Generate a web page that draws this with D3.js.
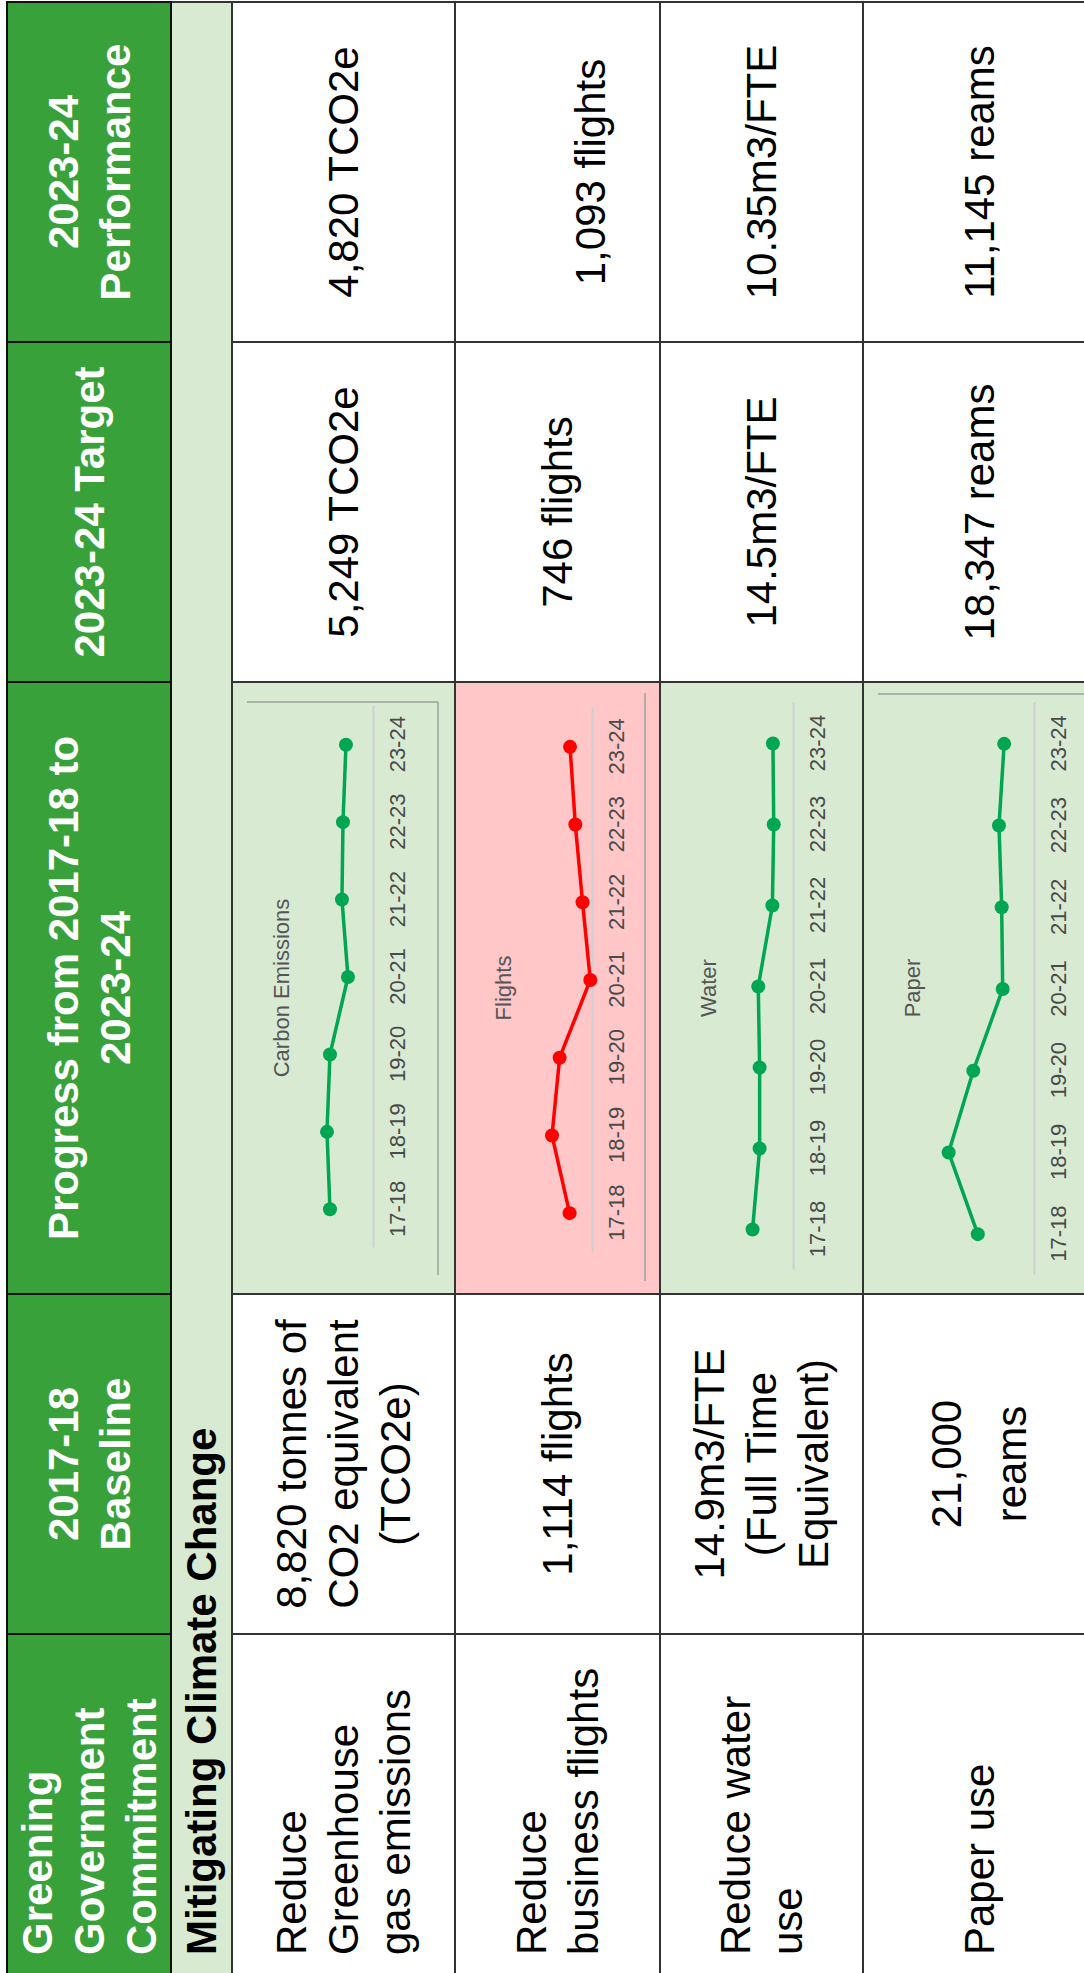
<!DOCTYPE html>
<html>
<head>
<meta charset="utf-8">
<script src="https://cdn.jsdelivr.net/npm/d3@7"></script>
<style>
  body { margin: 0; background: #fff; }
  svg { display: block; }
  text { font-family: "Liberation Sans", Arial, sans-serif; }
</style>
</head>
<body>
<svg id="main-svg"></svg>
<script>
// table content
var columnHeads = [["Greening", "Government", "Commitment"], ["2017-18", "Baseline"], ["Progress from 2017-18 to", "2023-24"], ["2023-24 Target"], ["2023-24", "Performance"]];
var sectionTitle = "Mitigating Climate Change";
var commitments = [["Reduce", "Greenhouse", "gas emissions"], ["Reduce", "business flights"], ["Reduce water", "use"], ["Paper use"]];
var baselines = [["8,820 tonnes of", "CO2 equivalent", "(TCO2e)"], ["1,114 flights"], ["14.9m3/FTE", "(Full Time", "Equivalent)"], ["21,000", "reams"]];
var targets = [["5,249 TCO2e"], ["746 flights"], ["14.5m3/FTE"], ["18,347 reams"]];
var performance = [["4,820 TCO2e"], ["", "1,093 flights"], ["10.35m3/FTE"], ["11,145 reams"]];

// sparkline data
var years = ["17-18", "18-19", "19-20", "20-21", "21-22", "22-23", "23-24"];
var chartTitles = ["Carbon Emissions", "Flights", "Water", "Paper"];
var carbonValues = [8820, 9430, 8820, 5130, 6360, 6150, 5540];
var flightValues = [1114, 1990, 1610, 85, 470, 830, 1093];
var waterValues = [14.9, 12.3, 12.3, 12.8, 7.6, 7.1, 7.4];
var paperValues = [21000, 31880, 22680, 11700, 12070, 13080, 11145];
var onTrack = [true, false, true, true];

var W = 1084, H = 1973;
var svg = d3.select("#main-svg").attr("width", W).attr("height", H);
svg.append("rect").attr("width", W).attr("height", H).attr("fill", "#fff");

// the table is drawn upright and turned a quarter turn
var g = svg.append("g").attr("transform", "translate(0," + H + ") rotate(-90)");

var colX = [-10, 339, 679, 1291, 1631, 1971];
var headTop = 7, headBottom = 171, bandBottom = 232;
var rowY = [232, 455, 660, 863, 1095];
var fontSize = 42, lineH = 52;
var green = "#38a13a", paleGreen = "#d9ead3", pink = "#ffc7c7";
var leading = { "1-3": 65, "4-1": 65 };

function addLines(sel, lines, x, cy, anchor, lh) {
  var n = lines.length;
  var t = sel.append("text").attr("text-anchor", anchor).attr("font-size", fontSize);
  lines.forEach(function (s, i) {
    t.append("tspan").attr("x", x).attr("y", cy + (i - (n - 1) / 2) * lh).attr("dy", "0.35em").text(s);
  });
  return t;
}

// body cells
var columns = [commitments, baselines, null, targets, performance];
for (var r = 0; r < 4; r++) {
  var y0 = rowY[r], y1 = rowY[r + 1], cy = (y0 + y1) / 2;
  for (var c = 0; c < 5; c++) {
    var x0 = colX[c], x1 = colX[c + 1];
    var fill = c === 2 ? (onTrack[r] ? paleGreen : pink) : "#fff";
    g.append("rect").attr("x", x0).attr("y", y0).attr("width", x1 - x0).attr("height", y1 - y0)
      .attr("fill", fill).attr("stroke", "#333").attr("stroke-width", 2);
    if (columns[c]) {
      var lh = leading[c + "-" + r] || lineH;
      if (c === 0) addLines(g, columns[c][r], 18, cy, "start", lh).attr("fill", "#000");
      else addLines(g, columns[c][r], (x0 + x1) / 2, cy, "middle", lh).attr("fill", "#000");
    }
  }
}

// section band
g.append("rect").attr("x", colX[0]).attr("y", headBottom).attr("width", colX[5] - colX[0]).attr("height", bandBottom - headBottom)
  .attr("fill", paleGreen).attr("stroke", "#333").attr("stroke-width", 2);
g.append("text").attr("x", 18).attr("y", (headBottom + bandBottom) / 2).attr("dy", "0.35em")
  .attr("font-size", fontSize).attr("font-weight", "bold").attr("fill", "#000").text(sectionTitle);

// header row
columnHeads.forEach(function (lines, c) {
  var x0 = colX[c], x1 = colX[c + 1];
  g.append("rect").attr("x", x0).attr("y", headTop).attr("width", x1 - x0).attr("height", headBottom - headTop)
    .attr("fill", green).attr("stroke", "#111").attr("stroke-width", 2);
  var t = c === 0 ? addLines(g, lines, 18, (headTop + headBottom) / 2, "start", lineH)
    : addLines(g, lines, (x0 + x1) / 2, (headTop + headBottom) / 2, "middle", lineH);
  t.attr("fill", "#fff").attr("font-weight", "bold");
});

// sparklines
var chartSeries = [carbonValues, flightValues, waterValues, paperValues];
var chartMax = [10000, 2000, 15, 35000];
var chartBox = [
  { axisY: 373, x0: 725, x1: 1267, span: 48.8, titleY: 281 },
  { axisY: 592, x0: 721, x1: 1265, span: 40.2, titleY: 503 },
  { axisY: 793, x0: 703, x1: 1270, span: 40.7, titleY: 708 },
  { axisY: 1034, x0: 698, x1: 1270, span: 93.7, titleY: 912 }
];
var frameLines = [
  [[698, 438, 1271, 438], [1271, 247, 1271, 438]],
  [[692, 645, 1280, 645]],
  [],
  [[1279, 878, 1279, 1100]]
];

chartSeries.forEach(function (vals, i) {
  var b = chartBox[i];
  var cg = g.append("g");
  frameLines[i].forEach(function (l) {
    cg.append("line").attr("x1", l[0]).attr("y1", l[1]).attr("x2", l[2]).attr("y2", l[3])
      .attr("stroke", "#9aa29a").attr("stroke-width", 1.5);
  });
  var x = d3.scalePoint().domain(years).range([b.x0, b.x1]).padding(0.5);
  var y = d3.scaleLinear().domain([0, chartMax[i]]).range([b.axisY, b.axisY - b.span]);
  var ax = cg.append("g").attr("transform", "translate(0," + b.axisY + ")")
    .call(d3.axisBottom(x).tickSize(0).tickSizeOuter(0).tickPadding(16));
  ax.select(".domain").attr("stroke", "#cfcfcf").attr("stroke-width", 2);
  ax.selectAll("text").attr("font-size", 22).attr("fill", "#4a4a4a")
    .attr("font-family", "'Liberation Sans', Arial, sans-serif");
  cg.append("text").attr("x", 985).attr("y", b.titleY).attr("dy", "0.35em").attr("text-anchor", "middle")
    .attr("font-size", 22).attr("fill", "#555").text(chartTitles[i]);
  var col = onTrack[i] ? "#00a651" : "#ff0000";
  var pts = years.map(function (yr, k) { return [x(yr), y(vals[k])]; });
  cg.append("path").datum(pts).attr("d", d3.line()).attr("fill", "none")
    .attr("stroke", col).attr("stroke-width", 3.5);
  cg.selectAll("circle").data(pts).enter().append("circle")
    .attr("cx", function (d) { return d[0]; }).attr("cy", function (d) { return d[1]; })
    .attr("r", 7).attr("fill", col);
});
</script>
</body>
</html>
